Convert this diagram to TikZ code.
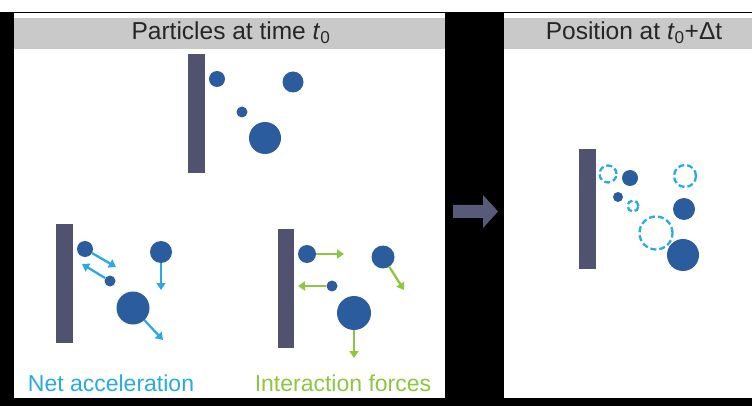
\documentclass[tikz,border=0pt]{standalone}
\usepackage{fontspec}
\setmainfont{Liberation Sans}
\usetikzlibrary{arrows.meta}

\definecolor{wallcol}{RGB}{80,82,112}
\definecolor{partcol}{RGB}{43,92,158}
\definecolor{netcol}{RGB}{41,171,226}
\definecolor{forcecol}{RGB}{141,198,63}
\definecolor{headcol}{RGB}{201,201,201}
\definecolor{stepcol}{RGB}{88,90,122}

\tikzset{
  wall/.style={fill=wallcol, draw=none},
  particle/.style={circle, fill=partcol, draw=none, inner sep=0pt, minimum size=#1},
  ghost/.style={circle, draw=netcol, line width=2.3pt, dash pattern=on 6pt off 3pt, inner sep=0pt, minimum size=#1},
  netarrow/.style={draw=netcol, line width=2.3pt, -{Triangle[length=7pt,width=9pt]}},
  forcearrow/.style={draw=forcecol, line width=2.3pt, -{Triangle[length=7pt,width=9pt]}},
  headtext/.style={font=\fontsize{24.5}{27}\selectfont, text=black!85},
  caption/.style={font=\fontsize{23}{26}\selectfont, anchor=base}
}

\begin{document}
\begin{tikzpicture}[x=1pt, y=-1pt]
  \useasboundingbox (0,0) rectangle (752,406);
  % backdrop
  \fill[white] (0,0) rectangle (752,406);
  \fill[black] (0,12) rectangle (752,406);

  % panels
  \fill[white] (14,13) rectangle (445,398);
  \fill[white] (504,13) rectangle (752,398);
  \fill[headcol] (14,18) rectangle (445,49);
  \fill[headcol] (504,18) rectangle (752,49);
  \node[headtext] (title1) at (231,33) {Particles at time \textit{t}\textsubscript{0}};
  \node[headtext] (title2) at (634,33) {Position at \textit{t}\textsubscript{0}+Δt};

  % ---- configuration at t0 ----
  \fill[wall] (188,54) rectangle (205,173);
  \node[particle=16pt] (a0) at (217,79) {};
  \node[particle=21pt] (b0) at (293,82) {};
  \node[particle=11pt] (c0) at (242,112) {};
  \node[particle=32pt] (d0) at (265,138) {};

  % ---- net acceleration ----
  \fill[wall] (56,224) rectangle (73,343);
  \node[particle=16pt] (a1) at (85,249) {};
  \node[particle=22pt] (b1) at (161,252) {};
  \node[particle=11pt] (c1) at (110,281) {};
  \node[particle=33pt] (d1) at (133,308) {};
  \coordinate (a1e) at (116,267);
  \coordinate (c1e) at (82,264);
  \coordinate (b1e) at (161,290);
  \coordinate (d1e) at (163,340);
  \draw[netarrow] (a1) -- (a1e);
  \draw[netarrow] (c1) -- (c1e);
  \draw[netarrow] (b1) -- (b1e);
  \draw[netarrow] (d1) -- (d1e);
  \node[caption, text=netcol] (netlabel) at (111,391) {Net acceleration};

  % ---- interaction forces ----
  \fill[wall] (278,229) rectangle (294,348);
  \node[particle=18pt] (a2) at (307,254) {};
  \node[particle=23pt] (b2) at (383,257) {};
  \node[particle=11pt] (c2) at (332,286) {};
  \node[particle=34pt] (d2) at (354,313) {};
  \coordinate (a2e) at (344,254);
  \coordinate (c2e) at (298,286);
  \coordinate (b2e) at (404,290);
  \coordinate (d2e) at (354,358);
  \draw[forcearrow] (a2) -- (a2e);
  \draw[forcearrow] (c2) -- (c2e);
  \draw[forcearrow] (b2) -- (b2e);
  \draw[forcearrow] (d2) -- (d2e);
  \node[caption, text=forcecol] (forcelabel) at (343,391) {Interaction forces};

  % ---- time step arrow ----
  \fill[stepcol] (453,205) -- (483,205) -- (483,195) -- (498,211.5)
    -- (483,228) -- (483,218) -- (453,218) -- cycle;

  % ---- configuration at t0 + dt ----
  \fill[wall] (579,149) rectangle (596,269);
  \node[ghost=17pt] (a3old) at (608,174) {};
  \node[ghost=11pt] (c3old) at (633,206) {};
  \node[ghost=33pt] (d3old) at (656,233) {};
  \node[ghost=22pt] (b3old) at (685,176) {};
  \node[particle=16pt] (a3) at (630,178) {};
  \node[particle=10pt] (c3) at (618,197) {};
  \node[particle=22pt] (b3) at (684,209) {};
  \node[particle=32pt] (d3) at (683,255) {};
\end{tikzpicture}
\end{document}
